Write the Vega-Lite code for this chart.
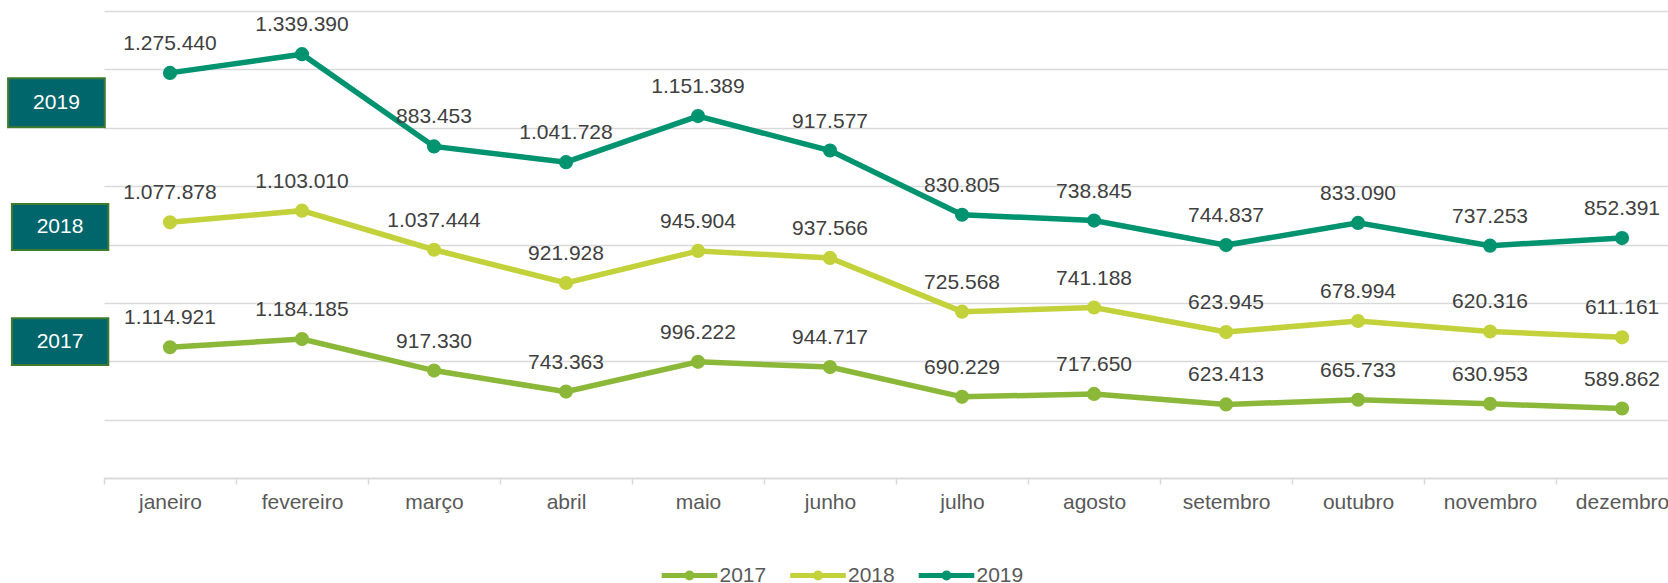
{
  "$schema": "https://vega.github.io/schema/vega-lite/v6.json",
  "width": 1564,
  "height": 467,
  "padding": {"left": 7, "top": 11, "right": 0, "bottom": 0},
  "config": {
    "view": {"stroke": null},
    "font": "Liberation Sans",
    "locale": {"number": {"decimal": ",", "thousands": ".", "grouping": [3], "currency": ["", ""]}}
  },
  "datasets": {
    "series": [
      {"m": 0, "mes": "janeiro", "ano": "2019", "pos": 6.94, "valor": 1275440},
      {"m": 1, "mes": "fevereiro", "ano": "2019", "pos": 7.26, "valor": 1339390},
      {"m": 2, "mes": "março", "ano": "2019", "pos": 5.68, "valor": 883453},
      {"m": 3, "mes": "abril", "ano": "2019", "pos": 5.41, "valor": 1041728},
      {"m": 4, "mes": "maio", "ano": "2019", "pos": 6.2, "valor": 1151389},
      {"m": 5, "mes": "junho", "ano": "2019", "pos": 5.61, "valor": 917577},
      {"m": 6, "mes": "julho", "ano": "2019", "pos": 4.51, "valor": 830805},
      {"m": 7, "mes": "agosto", "ano": "2019", "pos": 4.41, "valor": 738845},
      {"m": 8, "mes": "setembro", "ano": "2019", "pos": 3.99, "valor": 744837},
      {"m": 9, "mes": "outubro", "ano": "2019", "pos": 4.37, "valor": 833090},
      {"m": 10, "mes": "novembro", "ano": "2019", "pos": 3.98, "valor": 737253},
      {"m": 11, "mes": "dezembro", "ano": "2019", "pos": 4.11, "valor": 852391},
      {"m": 0, "mes": "janeiro", "ano": "2018", "pos": 4.38, "valor": 1077878},
      {"m": 1, "mes": "fevereiro", "ano": "2018", "pos": 4.58, "valor": 1103010},
      {"m": 2, "mes": "março", "ano": "2018", "pos": 3.91, "valor": 1037444},
      {"m": 3, "mes": "abril", "ano": "2018", "pos": 3.34, "valor": 921928},
      {"m": 4, "mes": "maio", "ano": "2018", "pos": 3.89, "valor": 945904},
      {"m": 5, "mes": "junho", "ano": "2018", "pos": 3.77, "valor": 937566},
      {"m": 6, "mes": "julho", "ano": "2018", "pos": 2.85, "valor": 725568},
      {"m": 7, "mes": "agosto", "ano": "2018", "pos": 2.92, "valor": 741188},
      {"m": 8, "mes": "setembro", "ano": "2018", "pos": 2.5, "valor": 623945},
      {"m": 9, "mes": "outubro", "ano": "2018", "pos": 2.69, "valor": 678994},
      {"m": 10, "mes": "novembro", "ano": "2018", "pos": 2.51, "valor": 620316},
      {"m": 11, "mes": "dezembro", "ano": "2018", "pos": 2.41, "valor": 611161},
      {"m": 0, "mes": "janeiro", "ano": "2017", "pos": 2.24, "valor": 1114921},
      {"m": 1, "mes": "fevereiro", "ano": "2017", "pos": 2.38, "valor": 1184185},
      {"m": 2, "mes": "março", "ano": "2017", "pos": 1.84, "valor": 917330},
      {"m": 3, "mes": "abril", "ano": "2017", "pos": 1.48, "valor": 743363},
      {"m": 4, "mes": "maio", "ano": "2017", "pos": 1.99, "valor": 996222},
      {"m": 5, "mes": "junho", "ano": "2017", "pos": 1.9, "valor": 944717},
      {"m": 6, "mes": "julho", "ano": "2017", "pos": 1.39, "valor": 690229},
      {"m": 7, "mes": "agosto", "ano": "2017", "pos": 1.44, "valor": 717650},
      {"m": 8, "mes": "setembro", "ano": "2017", "pos": 1.26, "valor": 623413},
      {"m": 9, "mes": "outubro", "ano": "2017", "pos": 1.34, "valor": 665733},
      {"m": 10, "mes": "novembro", "ano": "2017", "pos": 1.27, "valor": 630953},
      {"m": 11, "mes": "dezembro", "ano": "2017", "pos": 1.19, "valor": 589862}
    ],
    "boxes": [
      {"ano": "2019", "x1": -1.2265, "x2": -0.494, "xm": -0.860, "y1": 6.847, "y2": 6.008, "ym": 6.43},
      {"ano": "2018", "x1": -1.1977, "x2": -0.4674, "xm": -0.833, "y1": 4.694, "y2": 3.906, "ym": 4.30},
      {"ano": "2017", "x1": -1.1977, "x2": -0.4674, "xm": -0.833, "y1": 2.736, "y2": 1.936, "ym": 2.336}
    ]
  },
  "layer": [
    {
      "data": {"name": "boxes"},
      "mark": {"type": "rect", "fill": "#00666B", "stroke": "#3E7B2E", "strokeWidth": 2},
      "encoding": {
        "x": {"field": "x1", "type": "quantitative", "title": null},
        "x2": {"field": "x2"},
        "y": {"field": "y1", "type": "quantitative", "title": null},
        "y2": {"field": "y2"}
      }
    },
    {
      "data": {"name": "boxes"},
      "mark": {"type": "text", "color": "#ffffff", "fontSize": 21, "baseline": "middle", "align": "center"},
      "encoding": {
        "x": {"field": "xm", "type": "quantitative", "title": null},
        "y": {"field": "ym", "type": "quantitative", "title": null},
        "text": {"field": "ano", "type": "nominal"}
      }
    },
    {
      "data": {"name": "series"},
      "mark": {"type": "line", "strokeWidth": 5.5},
      "encoding": {
        "x": {
          "field": "m", "type": "quantitative", "title": null,
          "scale": {"domain": [-0.5, 11.348], "nice": false, "zero": false},
          "axis": {
            "values": [-0.5, 0, 0.5, 1, 1.5, 2, 2.5, 3, 3.5, 4, 4.5, 5, 5.5, 6, 6.5, 7, 7.5, 8, 8.5, 9, 9.5, 10, 10.5, 11],
            "labelExpr": "datum.value % 1 === 0 ? ['janeiro','fevereiro','março','abril','maio','junho','julho','agosto','setembro','outubro','novembro','dezembro'][datum.value] : ''",
            "tickOpacity": {"condition": {"test": "datum.value % 1 === 0", "value": 0}, "value": 1},
            "tickSize": 6, "tickColor": "#d9d9d9", "tickWidth": 1.5,
            "domainColor": "#d9d9d9", "domainWidth": 1.5,
            "grid": false,
            "labelFontSize": 21, "labelColor": "#595959", "labelPadding": 7,
            "labelOverlap": false, "labelFlush": false, "labelBound": false
          }
        },
        "y": {
          "field": "pos", "type": "quantitative", "title": null,
          "scale": {"domain": [0, 8], "nice": false},
          "axis": {
            "values": [0, 1, 2, 3, 4, 5, 6, 7, 8],
            "labels": false, "ticks": false, "domain": false,
            "grid": true, "gridColor": "#d9d9d9", "gridWidth": 1.5
          }
        },
        "color": {
          "field": "ano", "type": "nominal",
          "scale": {"domain": ["2017", "2018", "2019"], "range": ["#8CB83A", "#C3D13B", "#00936F"]},
          "legend": {
            "title": null, "orient": "none", "legendX": 575, "legendY": 554,
            "direction": "horizontal",
            "symbolType": "M-5.56,0L5.56,0M0.5,0A0.5,0.5,0,1,1,-0.5,0A0.5,0.5,0,1,1,0.5,0Z",
            "symbolSize": 100, "symbolStrokeWidth": 5,
            "labelFontSize": 21, "labelColor": "#595959",
            "labelOffset": 19.5, "columnPadding": 12.5, "padding": 0,
            "encode": {
              "symbols": {
                "update": {
                  "fill": {"scale": "color", "field": "value"},
                  "stroke": {"scale": "color", "field": "value"},
                  "strokeWidth": {"value": 5},
                  "opacity": {"value": 1}
                }
              }
            }
          }
        }
      }
    },
    {
      "data": {"name": "series"},
      "mark": {"type": "point", "filled": true, "size": 200, "opacity": 1},
      "encoding": {
        "x": {"field": "m", "type": "quantitative", "title": null},
        "y": {"field": "pos", "type": "quantitative", "title": null},
        "color": {"field": "ano", "type": "nominal"}
      }
    },
    {
      "data": {"name": "series"},
      "mark": {"type": "text", "dy": -29, "fontSize": 21, "color": "#404040", "baseline": "middle", "align": "center"},
      "encoding": {
        "x": {"field": "m", "type": "quantitative", "title": null},
        "y": {"field": "pos", "type": "quantitative", "title": null},
        "text": {"field": "valor", "type": "quantitative", "format": ",d"}
      }
    }
  ]
}
